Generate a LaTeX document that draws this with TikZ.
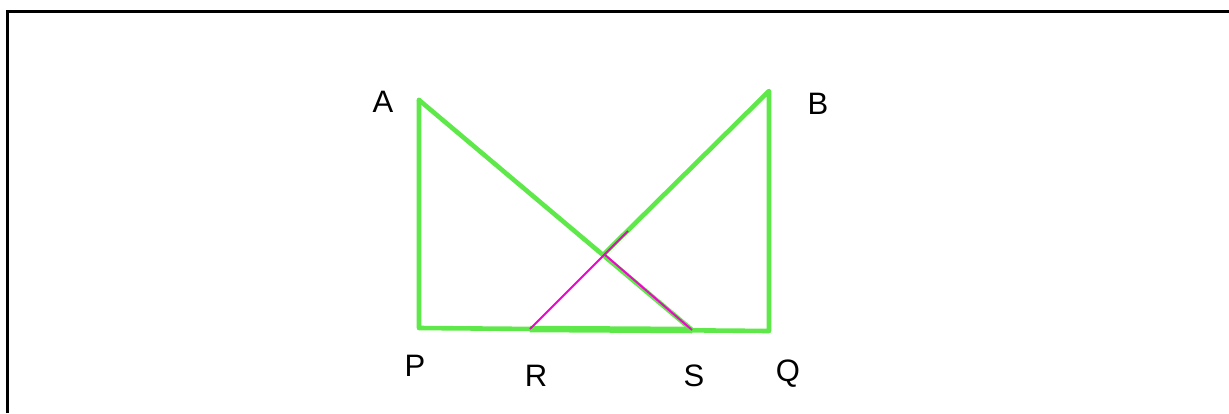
\documentclass[tikz,border=0pt]{standalone}
\usepackage{fontspec}
\setmainfont{Liberation Sans}
\definecolor{lgreen}{RGB}{95,232,74}
\definecolor{mag}{RGB}{245,0,210}
\tikzset{
  frame/.style={line width=3pt,black},
  side/.style={line width=4.6pt,lgreen,line cap=round,line join=round},
  base/.style={line width=6.5pt,lgreen},
  mline/.style={line width=1.9pt,mag},
  lbl/.style={font=\fontsize{31}{31}\selectfont,inner sep=0pt}
}
\begin{document}
\begin{tikzpicture}[x=1pt,y=-1pt]
\useasboundingbox (0,0) rectangle (1229,413);
\coordinate (A) at (419,100);
\coordinate (P) at (419,328);
\coordinate (B) at (769,91);
\coordinate (Q) at (769,331);
\coordinate (R) at (530,329);
\coordinate (S) at (692,330);
\coordinate (X) at (604,254);
\coordinate (M) at (628,231);
\coordinate (F1) at (7,413);
\coordinate (F2) at (7,11);
\coordinate (F3) at (1229,11);
\draw[frame] (F1) -- (F2) -- (F3);
\draw[side] (A) -- (P) -- (Q) -- (B) -- (X);
\draw[side] (A) -- (S);
\draw[base] (R) -- (S);
\draw[mline] (R) -- (M);
\draw[mline] (X) -- (S);
\node[lbl] (lA) at (383,102) {A};
\node[lbl] (lB) at (818,104) {B};
\node[lbl] (lP) at (415,366) {P};
\node[lbl] (lR) at (536,376) {R};
\node[lbl] (lS) at (694,376) {S};
\node[lbl] (lQ) at (788,374) {Q};
\end{tikzpicture}
\end{document}
